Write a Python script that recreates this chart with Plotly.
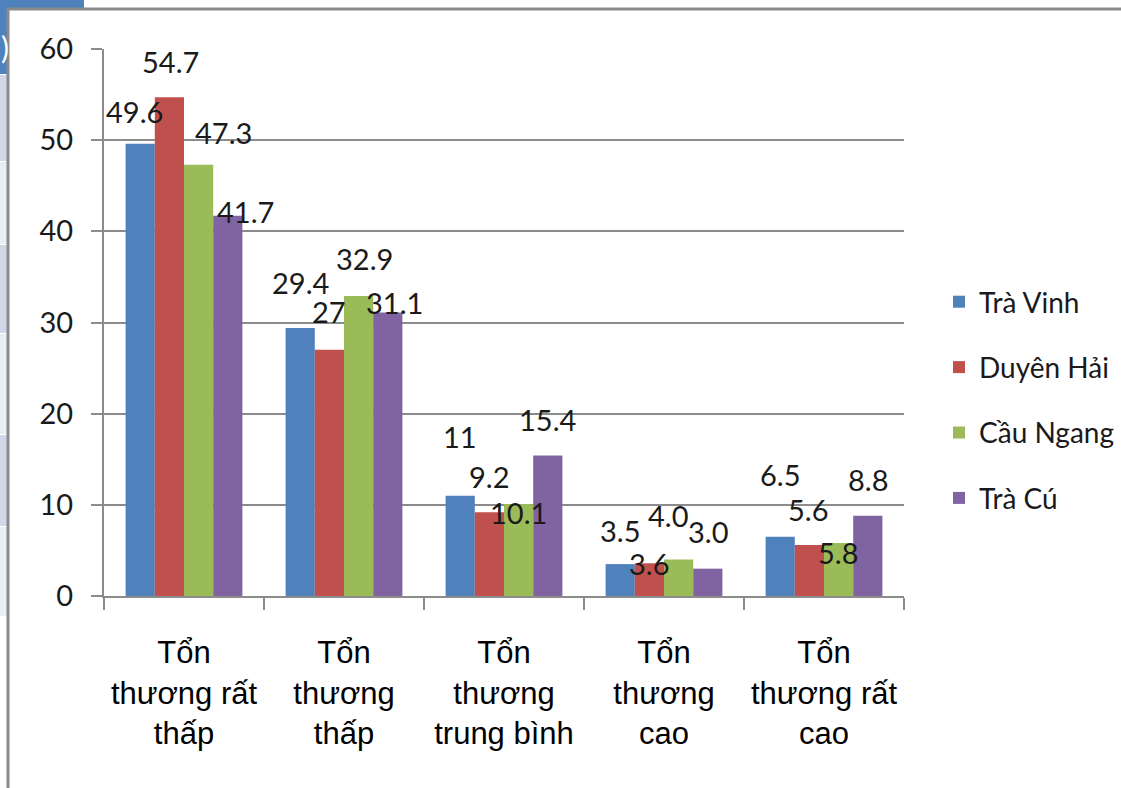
import plotly.graph_objects as go

# Categories (x axis) and the four districts (series)
categories = [
    "Tổn<br>thương rất<br>thấp",
    "Tổn<br>thương<br>thấp",
    "Tổn<br>thương<br>trung bình",
    "Tổn<br>thương<br>cao",
    "Tổn<br>thương rất<br>cao",
]
series_names = ["Trà Vinh", "Duyên Hải", "Cầu Ngang", "Trà Cú"]

# Value labels as printed; bar heights are parsed from the same strings
tra_vinh_labels = ["49.6", "29.4", "11", "3.5", "6.5"]
duyen_hai_labels = ["54.7", "27", "9.2", "3.6", "5.6"]
cau_ngang_labels = ["47.3", "32.9", "10.1", "4.0", "5.8"]
tra_cu_labels = ["41.7", "31.1", "15.4", "3.0", "8.8"]

series_labels = [tra_vinh_labels, duyen_hai_labels, cau_ngang_labels, tra_cu_labels]
series_values = [[float(s) for s in lab] for lab in series_labels]

y_ticks = [0, 10, 20, 30, 40, 50, 60]

colors = ["#4f81bd", "#c0504d", "#9bbb59", "#8064a2"]

# Layout geometry (pixels)
W, H = 1121, 788
ML, MR, MT, MB = 104, 217, 49, 192
PW, PH = W - ML - MR, H - MT - MB
BARGAP = 0.27

# Hand-placed label nudges (dx, dy in px relative to bar top centre)
label_nudges = [
    [(-6, 32), (0, 45), (0, 59), (0, 34), (0, 62)],
    [(1, 36), (0, 38), (0, 36), (0, 0), (-1, 35)],
    [(25, 32), (6, 38), (0, -9), (-11, 44), (-1, -9)],
    [(18, 4), (7, 10), (0, 36), (0, 37), (0, 36)],
]

FONT_NUM = "Lato, 'Open Sans', sans-serif"
FONT_CAT = "'Liberation Sans', Arial, sans-serif"

fig = go.Figure()
for i, name in enumerate(series_names):
    fig.add_trace(go.Bar(
        x=categories, y=series_values[i], name=name,
        marker=dict(color=colors[i], line=dict(width=0)),
        legendgroup=name,
    ))

# Value labels
cat_w = PW / len(categories)
bar_w = cat_w * (1 - BARGAP) / len(series_names)
annotations = []
for i in range(len(series_names)):
    off = (i - (len(series_names) - 1) / 2) * bar_w
    for j, cat in enumerate(categories):
        dx, dy = label_nudges[i][j]
        annotations.append(dict(
            x=cat, y=series_values[i][j], xref="x", yref="y",
            text=series_labels[i][j], showarrow=False,
            xshift=off + dx, yshift=dy, xanchor="center", yanchor="middle",
            font=dict(family=FONT_NUM, size=29, color="#1a1a1a"),
        ))

# Clipped header glyph of the slide table behind the chart
annotations.append(dict(
    x=(-1 - ML) / PW, y=(596 - 47) / PH, xref="paper", yref="paper",
    text=")", showarrow=False, xanchor="left", yanchor="middle",
    font=dict(family=FONT_NUM, size=30, color="white"),
))


def px_x(v):
    return (v - ML) / PW


def px_y(v):
    return (MT + PH - v) / PH


shapes = []
# Slide table strip on the left edge
rows = [
    (0, 74, "#4f81bd"),
    (75, 161, "#d0d8e8"),
    (162, 244, "#e9edf4"),
    (245, 333, "#d0d8e8"),
    (334, 434, "#e9edf4"),
    (435, 526, "#d0d8e8"),
    (527, 616, "#e9edf4"),
]
for top, bot, col in rows:
    shapes.append(dict(
        type="rect", xref="paper", yref="paper",
        x0=px_x(0), x1=px_x(8), y0=px_y(bot), y1=px_y(top),
        fillcolor=col, line=dict(width=0), layer="below",
    ))
# Header cell above the chart frame
shapes.append(dict(
    type="rect", xref="paper", yref="paper",
    x0=px_x(0), x1=px_x(84), y0=px_y(8), y1=px_y(0),
    fillcolor="#4f81bd", line=dict(width=0), layer="below",
))
# Chart frame (top and left edges)
shapes.append(dict(
    type="line", xref="paper", yref="paper",
    x0=px_x(7), x1=px_x(W + 5), y0=px_y(9), y1=px_y(9),
    line=dict(color="#8a8a8a", width=3),
))
shapes.append(dict(
    type="line", xref="paper", yref="paper",
    x0=px_x(8), x1=px_x(8), y0=px_y(9), y1=px_y(H + 5),
    line=dict(color="#8a8a8a", width=3),
))

fig.update_layout(
    width=W, height=H,
    margin=dict(l=ML, r=MR, t=MT, b=MB, autoexpand=False),
    paper_bgcolor="white", plot_bgcolor="white",
    barmode="group", bargap=BARGAP, bargroupgap=0,
    showlegend=True,
    legend=dict(
        x=px_x(939), y=px_y(277), xanchor="left", yanchor="top",
        font=dict(family=FONT_NUM, size=28, color="#1a1a1a"),
        tracegroupgap=26, traceorder="grouped",
        bgcolor="rgba(0,0,0,0)",
    ),
    xaxis=dict(
        type="category", range=[-0.5, 4.5],
        showline=True, linecolor="#8c8c8c", linewidth=2,
        ticks="outside", tickson="boundaries", ticklen=12,
        tickcolor="#8c8c8c", tickwidth=2,
        showgrid=False, zeroline=False,
        tickfont=dict(family=FONT_CAT, size=31, color="black"),
        ticklabelstandoff=28,
    ),
    yaxis=dict(
        range=[0, 60], tickvals=y_ticks,
        showline=True, linecolor="#8c8c8c", linewidth=2,
        ticks="outside", ticklen=11, tickcolor="#8c8c8c", tickwidth=2,
        showgrid=True, gridcolor="#8c8c8c", gridwidth=2,
        zeroline=False,
        tickfont=dict(family=FONT_NUM, size=29, color="#1a1a1a"),
        ticklabelstandoff=12,
    ),
    annotations=annotations,
    shapes=shapes,
)

fig.write_html("out.html")
